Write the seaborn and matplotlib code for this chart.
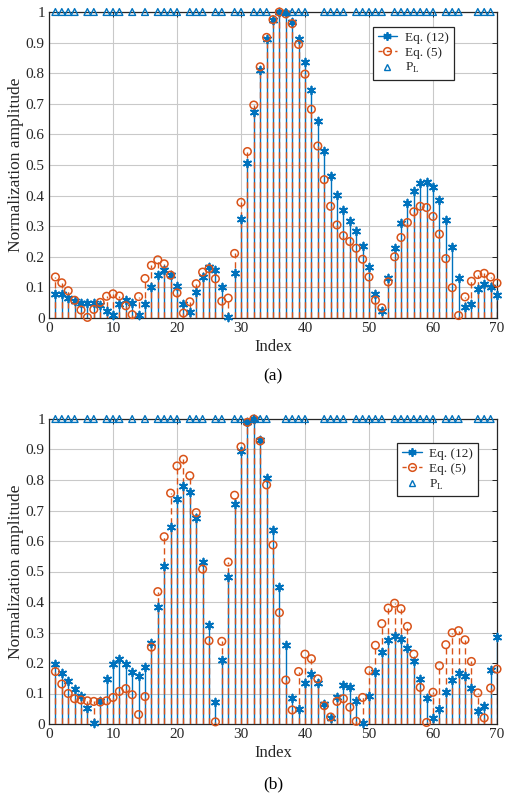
import numpy as np
import pandas as pd
import matplotlib
matplotlib.use("Agg")
import matplotlib.pyplot as plt
from matplotlib.lines import Line2D
import seaborn as sns

# ---- data -------------------------------------------------------------
index = list(range(1, 71))

eq12_a = [0.080, 0.077, 0.066, 0.055, 0.048, 0.048, 0.048, 0.042, 0.022, 0.011,
          0.046, 0.060, 0.049, 0.011, 0.046, 0.100, 0.141, 0.158, 0.142, 0.103,
          0.046, 0.020, 0.084, 0.135, 0.168, 0.158, 0.102, 0.002, 0.148, 0.323,
          0.506, 0.674, 0.810, 0.913, 0.975, 1.000, 0.998, 0.966, 0.912, 0.838,
          0.745, 0.644, 0.545, 0.463, 0.402, 0.354, 0.318, 0.285, 0.235, 0.168,
          0.079, 0.022, 0.131, 0.230, 0.312, 0.376, 0.416, 0.440, 0.445, 0.427,
          0.387, 0.321, 0.232, 0.131, 0.035, 0.046, 0.095, 0.110, 0.100, 0.074]

eq5_a = [0.134, 0.115, 0.089, 0.058, 0.026, 0.002, 0.028, 0.051, 0.071, 0.079,
         0.072, 0.040, 0.011, 0.070, 0.129, 0.172, 0.190, 0.177, 0.140, 0.082,
         0.016, 0.053, 0.112, 0.150, 0.161, 0.128, 0.055, 0.065, 0.211, 0.378,
         0.544, 0.696, 0.821, 0.917, 0.975, 1.000, 0.994, 0.962, 0.894, 0.797,
         0.682, 0.562, 0.452, 0.365, 0.304, 0.269, 0.250, 0.228, 0.192, 0.134,
         0.058, 0.033, 0.118, 0.200, 0.263, 0.312, 0.347, 0.365, 0.361, 0.332,
         0.274, 0.194, 0.099, 0.008, 0.069, 0.120, 0.142, 0.146, 0.134, 0.114]

eq12_b = [0.198, 0.167, 0.140, 0.116, 0.091, 0.052, 0.003, 0.076, 0.147, 0.198,
          0.213, 0.197, 0.170, 0.156, 0.186, 0.265, 0.383, 0.517, 0.646, 0.737,
          0.781, 0.761, 0.677, 0.531, 0.324, 0.071, 0.209, 0.483, 0.722, 0.896,
          0.991, 1.000, 0.931, 0.806, 0.636, 0.448, 0.258, 0.085, 0.050, 0.135,
          0.164, 0.133, 0.066, 0.020, 0.090, 0.127, 0.121, 0.076, 0.003, 0.093,
          0.172, 0.236, 0.275, 0.287, 0.278, 0.249, 0.205, 0.148, 0.085, 0.020,
          0.050, 0.105, 0.144, 0.167, 0.158, 0.117, 0.044, 0.060, 0.178, 0.284]

eq5_b = [0.172, 0.131, 0.100, 0.083, 0.079, 0.076, 0.074, 0.072, 0.076, 0.087,
         0.107, 0.116, 0.096, 0.031, 0.090, 0.252, 0.434, 0.614, 0.757, 0.846,
         0.868, 0.814, 0.693, 0.508, 0.273, 0.007, 0.271, 0.531, 0.750, 0.909,
         0.989, 1.000, 0.928, 0.784, 0.587, 0.365, 0.144, 0.046, 0.172, 0.229,
         0.214, 0.148, 0.060, 0.023, 0.074, 0.083, 0.055, 0.009, 0.087, 0.175,
         0.258, 0.329, 0.380, 0.396, 0.378, 0.320, 0.229, 0.120, 0.005, 0.104,
         0.191, 0.260, 0.299, 0.306, 0.276, 0.205, 0.102, 0.020, 0.118, 0.180]

# indices of the set P_L (drawn at unit height)
pl_index = [1, 2, 3, 4, 6, 7, 9, 10, 11, 13, 15, 17, 18, 19, 20, 22, 23, 24,
            26, 27, 29, 30, 32, 33, 34, 37, 38, 39, 40, 43, 44, 45, 46, 48, 49,
            50, 51, 52, 54, 55, 56, 57, 58, 59, 60, 62, 63, 64, 67, 68, 69]

series_labels = ["Eq. (12)", "Eq. (5)", r"P$_\mathregular{L}$"]
panel_tags = ["(a)", "(b)"]
x_ticks = list(range(0, 71, 10))
y_ticks = [round(0.1 * k, 1) for k in range(11)]
y_ticklabels = ["0"] + [f"{v:g}" for v in y_ticks[1:-1]] + ["1"]

# ---- style ------------------------------------------------------------
sns.set_theme(style="white")
plt.rcParams["font.family"] = ["Liberation Serif", "DejaVu Serif"]
plt.rcParams["mathtext.fontset"] = "custom"
plt.rcParams["mathtext.rm"] = "Liberation Serif"

BLUE = (0.0, 0.447, 0.741)
ORANGE = (0.850, 0.325, 0.098)
AX_COLOR = (0.15, 0.15, 0.15)
GRID = "#c9c9c9"
DASH = (0, (4.5, 2.7))

W, H = 508, 796
fig = plt.figure(figsize=(W / 100, H / 100), dpi=100)


def px_axes(left, top, right, bottom):
    return fig.add_axes([left / W, 1 - bottom / H, (right - left) / W, (bottom - top) / H])


def draw_panel(ax, blue_vals, orange_vals, legend_xy, tag, tag_y):
    d12 = pd.DataFrame({"Index": index, "amp": blue_vals})
    d5 = pd.DataFrame({"Index": index, "amp": orange_vals})
    dpl = pd.DataFrame({"Index": pl_index, "amp": np.ones(len(pl_index))})

    # stems: solid blue first, dashed orange on top
    ax.vlines(d12["Index"], 0, d12["amp"], colors=[BLUE], linewidth=1.0, zorder=2)
    ax.vlines(d5["Index"], 0, d5["amp"], colors=[ORANGE], linewidth=1.0,
              linestyles=[DASH], zorder=3)

    sns.scatterplot(data=d12, x="Index", y="amp", ax=ax, marker=(6, 2, 0),
                    color=BLUE, s=32, linewidth=1.3, zorder=4, clip_on=False,
                    legend=False)
    sns.scatterplot(data=d5, x="Index", y="amp", ax=ax, marker="o",
                    facecolors="none", edgecolors=ORANGE, s=30, linewidth=1.1,
                    zorder=5, clip_on=False, legend=False)
    sns.scatterplot(data=dpl, x="Index", y="amp", ax=ax, marker="^",
                    facecolors="none", edgecolors=BLUE, s=24, linewidth=1.0,
                    zorder=6, clip_on=False, legend=False)

    ax.set_xlim(0, 70)
    ax.set_ylim(0, 1)
    ax.set_xticks(x_ticks)
    ax.set_yticks(y_ticks)
    ax.set_yticklabels(y_ticklabels)
    ax.grid(True, color=GRID, linewidth=0.8)
    ax.set_axisbelow(True)
    ax.tick_params(direction="in", top=True, right=True, length=3.5,
                   width=0.7, colors=AX_COLOR, labelsize=11, pad=3)
    for sp in ax.spines.values():
        sp.set_color(AX_COLOR)
        sp.set_linewidth(0.9)
        sp.set_visible(True)
    ax.set_xlabel("Index", fontsize=12, color=AX_COLOR, labelpad=3)
    ax.set_ylabel("Normalization amplitude", fontsize=12.5, color=AX_COLOR,
                  labelpad=1)

    handles = [
        Line2D([], [], color=BLUE, linestyle="-", marker=(6, 2, 0),
               markersize=6, markeredgewidth=1.3, linewidth=1.0),
        Line2D([], [], color=ORANGE, linestyle=(0, (3, 3)), marker="o",
               markersize=5.5, markerfacecolor="none", markeredgewidth=1.1,
               linewidth=1.0),
        Line2D([], [], color=BLUE, linestyle="none", marker="^",
               markersize=5, markerfacecolor="none", markeredgewidth=1.0),
    ]
    leg = ax.legend(handles, series_labels, loc="upper left",
                    bbox_to_anchor=legend_xy, fontsize=9.5, frameon=True,
                    fancybox=False, framealpha=1, edgecolor=AX_COLOR,
                    handlelength=1.5, handletextpad=0.6, borderpad=0.35,
                    labelspacing=0.2, borderaxespad=0)
    leg.get_frame().set_linewidth(0.9)
    for t in leg.get_texts():
        t.set_color(AX_COLOR)

    fig.text((49 + 497) / 2 / W, 1 - tag_y / H, tag, ha="center", va="center",
             fontsize=12.5, color="black")


ax_a = px_axes(49, 12, 497, 318)
draw_panel(ax_a, eq12_a, eq5_a, (0.723, 0.951), panel_tags[0], 376)

ax_b = px_axes(49, 419, 497, 724)
draw_panel(ax_b, eq12_b, eq5_b, (0.777, 0.921), panel_tags[1], 784)

fig.savefig("out.png", dpi=100, facecolor="white")
